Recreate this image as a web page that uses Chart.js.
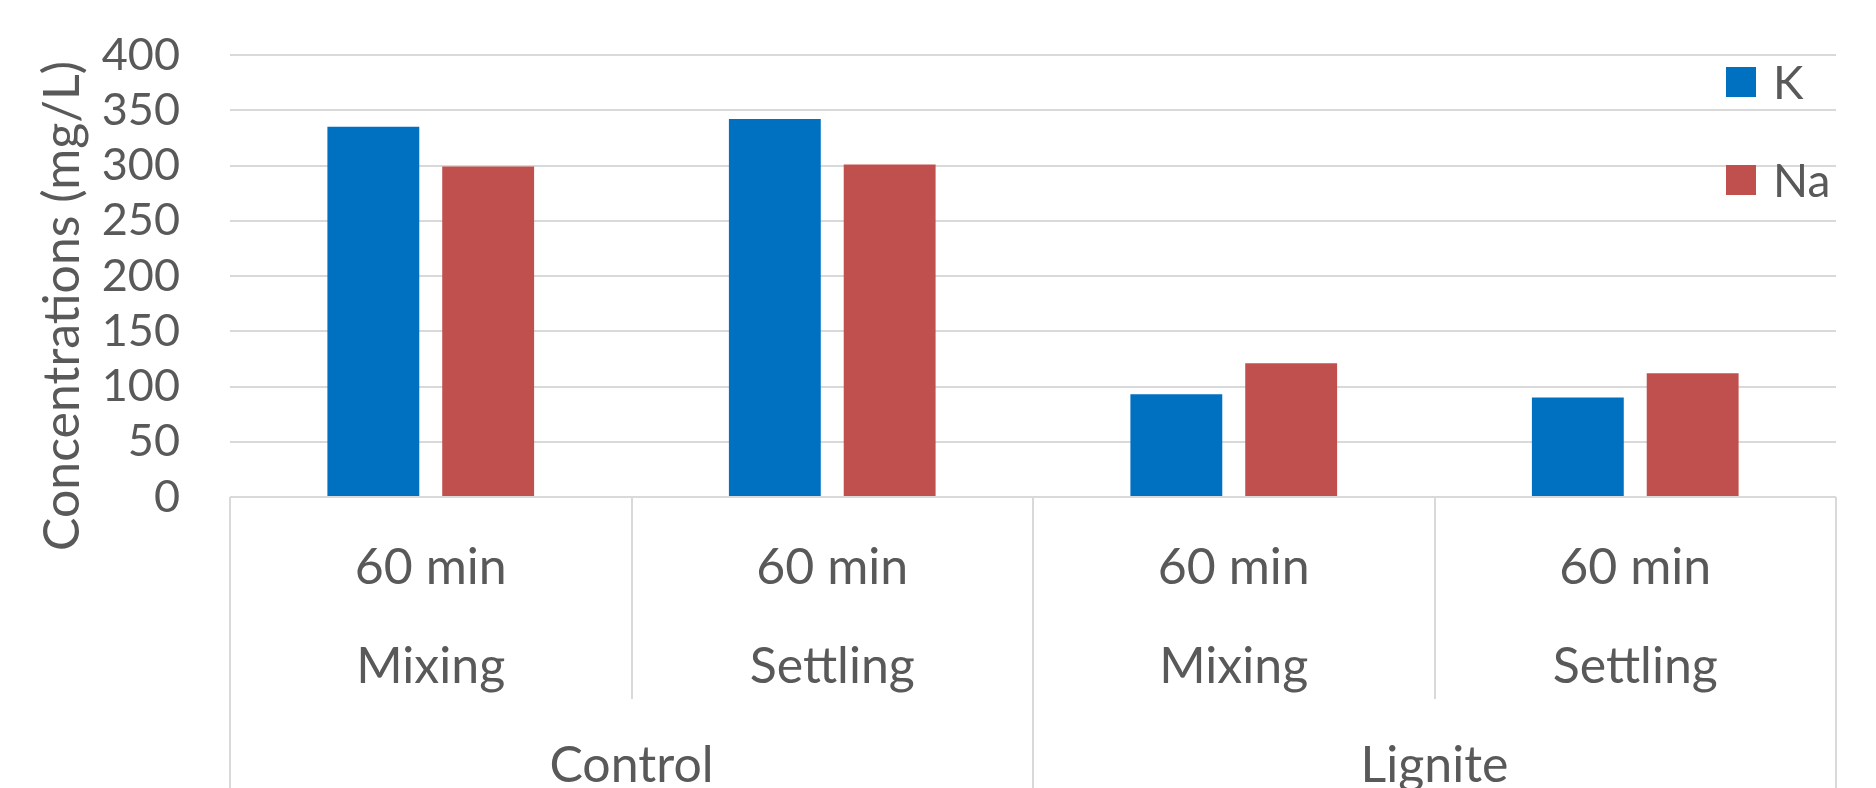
<!DOCTYPE html>
<html>
<head>
<meta charset="utf-8">
<title>K and Na concentrations</title>
<script src="https://cdn.jsdelivr.net/npm/chart.js@4.4.1/dist/chart.umd.min.js"></script>
<style>
  html, body { margin: 0; padding: 0; background: #ffffff; }
  #wrap { width: 1876px; height: 788px; position: relative; }
</style>
</head>
<body>
<div id="wrap"><canvas id="chart" width="1876" height="788"></canvas></div>
<script>
// Category levels (inner to outer)
const timeLabels  = ['60 min', '60 min', '60 min', '60 min'];
const phaseLabels = ['Mixing', 'Settling', 'Mixing', 'Settling'];
const groupLabels = ['Control', 'Lignite'];

// Series
const seriesNames = ['K', 'Na'];
const kValues  = [335, 342, 93, 90];
const naValues = [299, 301, 121, 112];

// Value axis
const yMin = 0;
const yMax = 400;
const yStep = 50;
const axisTitle = 'Concentrations (mg/L)';

const TEXT = '#595959';
const GRID = '#d9d9d9';
const FONT_FAMILY = "Lato, 'Open Sans', 'Noto Sans', sans-serif";
const labelFont = { family: FONT_FAMILY, size: 50, lineHeight: 1.98 };

const categories = timeLabels.map((t, i) => [t, phaseLabels[i]]);

// Vertical separators of the multi-level category axis
const categoryDividers = {
  id: 'categoryDividers',
  afterDraw(chart) {
    const xs = chart.scales.x, gs = chart.scales.x2;
    const ctx = chart.ctx;
    const n = xs.getLabels().length;
    const half = (xs.getPixelForValue(1) - xs.getPixelForValue(0)) / 2;
    const gHalf = (gs.getPixelForValue(1) - gs.getPixelForValue(0)) / 2;
    const groupEdges = [];
    for (let g = 0; g < gs.getLabels().length; g++) {
      groupEdges.push(gs.getPixelForValue(g) - gHalf, gs.getPixelForValue(g) + gHalf);
    }
    ctx.save();
    ctx.strokeStyle = GRID;
    ctx.lineWidth = 2;
    for (let i = 0; i <= n; i++) {
      const bx = i < n ? xs.getPixelForValue(i) - half : xs.getPixelForValue(n - 1) + half;
      const outer = groupEdges.some(e => Math.abs(e - bx) < 1);
      const yEnd = outer ? chart.height : xs.bottom;
      const px = Math.round(bx);
      ctx.beginPath();
      ctx.moveTo(px, chart.chartArea.bottom);
      ctx.lineTo(px, yEnd);
      ctx.stroke();
    }
    ctx.restore();
  }
};

// Rotated value-axis title
const valueAxisTitle = {
  id: 'valueAxisTitle',
  afterDraw(chart, args, opts) {
    const ctx = chart.ctx;
    ctx.save();
    ctx.translate(opts.x, opts.y);
    ctx.rotate(-Math.PI / 2);
    ctx.font = `${opts.size}px ${FONT_FAMILY}`;
    ctx.fillStyle = TEXT;
    ctx.textAlign = 'center';
    ctx.textBaseline = 'alphabetic';
    ctx.fillText(opts.text, 0, 0);
    ctx.restore();
  }
};

// Series key drawn inside the plot at the upper right
const seriesKey = {
  id: 'seriesKey',
  afterDraw(chart, args, opts) {
    const ctx = chart.ctx;
    ctx.save();
    ctx.font = `${opts.size}px ${FONT_FAMILY}`;
    ctx.textBaseline = 'middle';
    ctx.textAlign = 'left';
    chart.data.datasets.forEach((ds, i) => {
      const cy = opts.y + i * opts.gap;
      ctx.fillStyle = ds.backgroundColor;
      ctx.fillRect(opts.x, cy - opts.box / 2, opts.box, opts.box);
      ctx.fillStyle = TEXT;
      ctx.fillText(ds.label, opts.x + opts.box + 17, cy + 2);
    });
    ctx.restore();
  }
};

new Chart(document.getElementById('chart'), {
  type: 'bar',
  data: {
    labels: categories,
    datasets: [
      { label: seriesNames[0], data: kValues,  backgroundColor: '#0070C0', borderWidth: 0,
        barPercentage: 0.8, categoryPercentage: 0.572 },
      { label: seriesNames[1], data: naValues, backgroundColor: '#C0504D', borderWidth: 0,
        barPercentage: 0.8, categoryPercentage: 0.572 }
    ]
  },
  options: {
    responsive: false,
    animation: false,
    devicePixelRatio: 1,
    layout: { padding: { top: 55, right: 40, left: 0, bottom: 0 } },
    plugins: {
      legend: { display: false },
      tooltip: { enabled: false },
      valueAxisTitle: { text: axisTitle, x: 79, y: 306, size: 50 },
      seriesKey: { x: 1726, y: 82, gap: 98, box: 30, size: 46 }
    },
    scales: {
      x: {
        type: 'category',
        position: 'bottom',
        offset: true,
        weight: 0,
        grid: { display: false, drawTicks: false },
        border: { display: false },
        ticks: { font: labelFont, color: TEXT, padding: 21.5, maxRotation: 0, autoSkip: false },
        afterFit(s) { s.height = 202; }
      },
      x2: {
        type: 'category',
        position: 'bottom',
        labels: groupLabels,
        offset: true,
        weight: 1,
        grid: { display: false, drawTicks: false },
        border: { display: false },
        ticks: { font: labelFont, color: TEXT, padding: 17.5, maxRotation: 0, autoSkip: false },
        afterFit(s) { s.height = 89; }
      },
      y: {
        min: yMin,
        max: yMax,
        ticks: { stepSize: yStep, autoSkip: false, font: { family: FONT_FAMILY, size: 45 }, color: TEXT, padding: 50 },
        grid: { color: GRID, lineWidth: 2, drawTicks: false },
        border: { display: false },
        afterFit(s) { s.width = 230; s.paddingTop = 0; s.paddingBottom = 0; }
      }
    }
  },
  plugins: [categoryDividers, valueAxisTitle, seriesKey]
});
</script>
</body>
</html>
